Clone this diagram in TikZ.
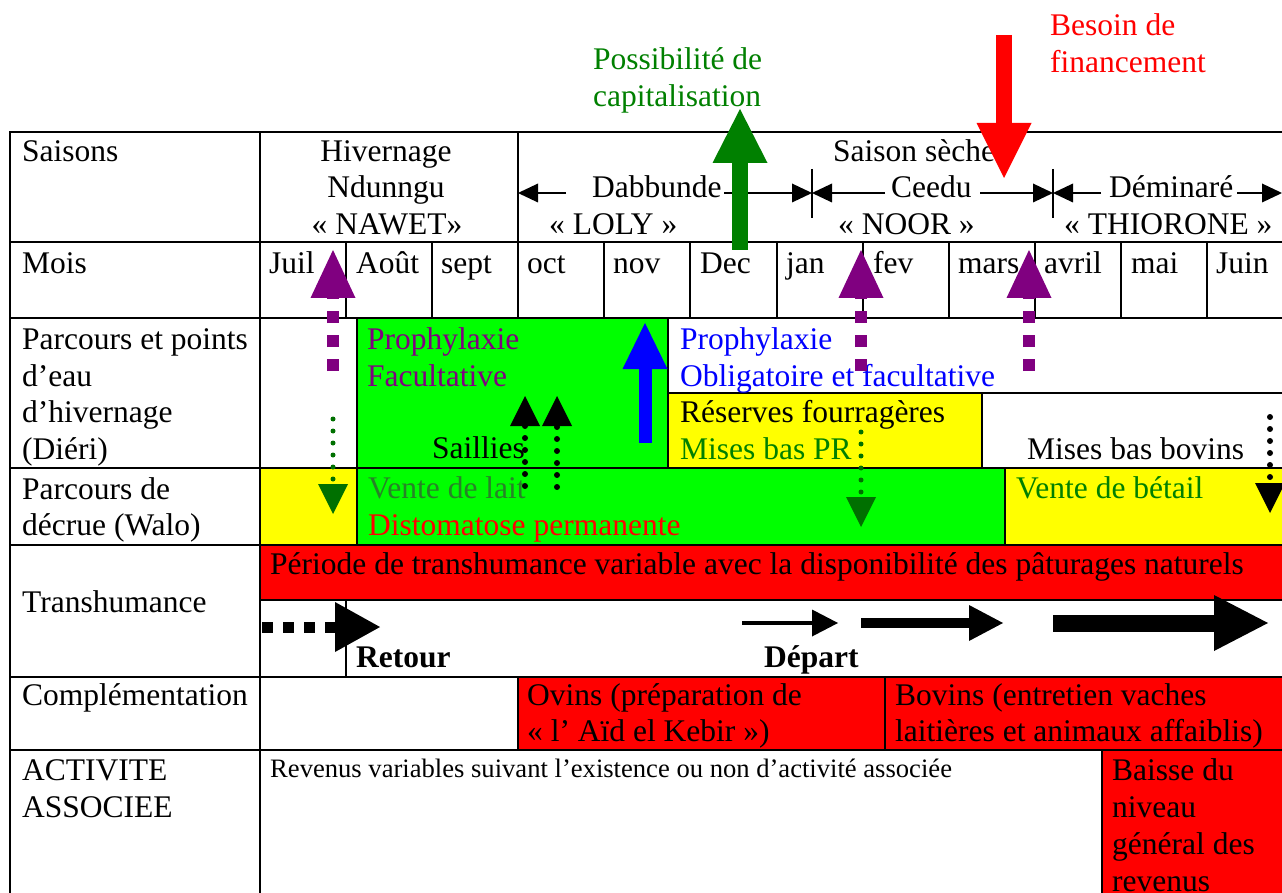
\documentclass[tikz,border=0pt]{standalone}
\usepackage{fontspec}
\setmainfont{Liberation Serif}
\usetikzlibrary{arrows.meta}
\definecolor{vif}{RGB}{0,255,0}
\definecolor{jaune}{RGB}{255,255,0}
\definecolor{rouge}{RGB}{255,0,0}
\definecolor{pourpre}{RGB}{128,0,128}
\definecolor{vertf}{RGB}{0,128,0}
\definecolor{vertsombre}{RGB}{0,112,0}
\definecolor{vertlait}{RGB}{40,130,40}
\definecolor{bleu}{RGB}{0,0,255}
\begin{document}
\begin{tikzpicture}[x=1pt,y=-1pt,
  every node/.style={inner sep=0pt, font=\fontsize{31.5}{37}\selectfont},
  lbl/.style={anchor=base west},
  ctr/.style={anchor=base},
  small/.style={font=\fontsize{26.6}{31}\selectfont},
  grid/.style={line width=2.6pt},
  arr/.style n args={3}{line width=#1,-{Triangle[width=#2,length=#3,line width=0pt]}},
  dotline/.style={line cap=round, dash pattern=on 0pt off 12pt},
  sqline/.style={line cap=butt, dash pattern=on 12pt off 12pt},
  tick/.style={line width=1.3pt},
  season/.style={line width=1.3pt,-{Triangle[width=19pt,length=20pt,line width=0pt]}}]
\useasboundingbox (0,0) rectangle (1282,893);
\clip (0,0) rectangle (1282,893);

% coloured cells
\fill[white] (0,0) rectangle (1282,893);
\fill[vif] (357,318) rectangle (668,468);
\fill[jaune] (668,393) rectangle (982,468);
\fill[jaune] (260,468) rectangle (357,545);
\fill[vif] (357,468) rectangle (1005,545);
\fill[jaune] (1005,468) rectangle (1300,545);
\fill[rouge] (260,545) rectangle (1300,600);
\fill[rouge] (518,677) rectangle (1300,750);
\fill[rouge] (1102,750) rectangle (1300,900);

% table rules
\draw[grid] (10,900) -- (10,132) -- (1300,132);
\foreach \y in {242,318,468,545,677,750} \draw[grid] (10,\y) -- (1300,\y);
\draw[grid] (260,600) -- (1300,600);
\draw[grid] (260,132) -- (260,900);
\draw[grid] (518,132) -- (518,242);
\foreach \x in {346,432,518,604,690,777,863,949,1035,1121,1207} \draw[grid] (\x,242) -- (\x,318);
\draw[grid] (357,318) -- (357,545);
\draw[grid] (668,318) -- (668,468);
\draw[grid] (668,393) -- (1300,393);
\draw[grid] (982,393) -- (982,468);
\draw[grid] (1005,468) -- (1005,545);
\draw[grid] (346,600) -- (346,677);
\draw[grid] (518,677) -- (518,750);
\draw[grid] (885,677) -- (885,750);
\draw[grid] (1102,750) -- (1102,900);

% row headings
\node[lbl] (saisons) at (22,162) {Saisons};
\node[lbl] (mois) at (22,273) {Mois};
\node[lbl] (parc1) at (22,349) {Parcours et points};
\node[lbl] (parc2) at (22,386) {d’eau};
\node[lbl] (parc3) at (22,422) {d’hivernage};
\node[lbl] (parc4) at (22,459) {(Diéri)};
\node[lbl] (decr1) at (22,499) {Parcours de};
\node[lbl] (decr2) at (22,535) {décrue (Walo)};
\node[lbl] (transh) at (22,612) {Transhumance};
\node[lbl] (compl) at (22,705) {Complémentation};
\node[lbl] (activ1) at (22,780) {ACTIVITE};
\node[lbl] (activ2) at (22,817) {ASSOCIEE};

% seasons
\node[ctr] (hiv1) at (386,162) {Hivernage};
\node[ctr] (hiv2) at (386,198) {Ndunngu};
\node[ctr] (hiv3) at (387,235) {« NAWET»};
\node[lbl] (seche) at (833,162) {Saison sèche};
\node[lbl] (dabb) at (592,198) {Dabbunde};
\node[lbl] (ceedu) at (891,198) {Ceedu};
\node[lbl] (demin) at (1109,198) {Déminaré};
\node[lbl] (loly) at (549,235) {« LOLY »};
\node[lbl] (noor) at (838,235) {« NOOR »};
\node[lbl] (thio) at (1064,235) {« THIORONE »};

\coordinate (t1a) at (812,169); \coordinate (t1b) at (812,218);
\coordinate (t2a) at (1053,169); \coordinate (t2b) at (1053,218);
\draw[tick] (t1a) -- (t1b);
\draw[tick] (t2a) -- (t2b);
\coordinate (s1) at (566,193); \coordinate (s1e) at (518,193);
\coordinate (s2) at (724,193); \coordinate (s2e) at (812,193);
\coordinate (s3) at (885,193);
\coordinate (s4) at (980,193); \coordinate (s4e) at (1053,193);
\coordinate (s5) at (1101,193);
\coordinate (s6) at (1237,193); \coordinate (s6e) at (1282,193);
\draw[season] (s1) -- (s1e);
\draw[season] (s2) -- (s2e);
\draw[season] (s3) -- (s2e);
\draw[season] (s4) -- (s4e);
\draw[season] (s5) -- (s4e);
\draw[season] (s6) -- (s6e);

% months
\node[lbl] (m1) at (269,273) {Juil};
\node[lbl] (m2) at (356,273) {Août};
\node[lbl] (m3) at (441,273) {sept};
\node[lbl] (m4) at (527,273) {oct};
\node[lbl] (m5) at (613,273) {nov};
\node[lbl] (m6) at (700,273) {Dec};
\node[lbl] (m7) at (786,273) {jan};
\node[lbl] (m8) at (873,273) {fev};
\node[lbl] (m9) at (958,273) {mars};
\node[lbl] (m10) at (1044,273) {avril};
\node[lbl] (m11) at (1131,273) {mai};
\node[lbl] (m12) at (1216,273) {Juin};

% grazing rows
\node[lbl, text=pourpre] (proF1) at (367,349) {Prophylaxie};
\node[lbl, text=pourpre] (proF2) at (367,386) {Facultative};
\node[lbl, text=bleu] (proO1) at (680,349) {Prophylaxie};
\node[lbl, text=bleu] (proO2) at (680,386) {Obligatoire et facultative};
\node[lbl] (reserves) at (680,422) {Réserves fourragères};
\node[lbl, text=vertf] (misesPR) at (680,459) {Mises bas PR};
\node[lbl] (misesBov) at (1027,459) {Mises bas bovins};
\node[lbl] (saillies) at (432,458) {Saillies};
\node[lbl, text=vertlait] (lait) at (368,498) {Vente de lait};
\node[lbl, text=rouge] (disto) at (368,535) {Distomatose permanente};
\node[lbl, text=vertf] (betail) at (1016,498) {Vente de bétail};

% transhumance
\node[lbl] (periode) at (270,574) {Période de transhumance variable avec la disponibilité des pâturages naturels};
\node[lbl, font=\fontsize{31.5}{37}\selectfont\bfseries] (retour) at (356,667) {Retour};
\node[lbl, font=\fontsize{31.5}{37}\selectfont\bfseries] (depart) at (764,667) {Départ};

% supplementation
\node[lbl] (ovins1) at (527,705) {Ovins (préparation de};
\node[lbl] (ovins2) at (527,741) {« l’ Aïd el Kebir »)};
\node[lbl] (bovins1) at (895,705) {Bovins (entretien vaches};
\node[lbl] (bovins2) at (895,741) {laitières et animaux affaiblis)};

% associated activity
\node[lbl, small] (revenus) at (270,777) {Revenus variables suivant l’existence ou non d’activité associée};
\node[lbl] (baisse1) at (1112,780) {Baisse du};
\node[lbl] (baisse2) at (1112,817) {niveau};
\node[lbl] (baisse3) at (1112,854) {général des};
\node[lbl] (baisse4) at (1112,891) {revenus};

% financial notes
\node[lbl, text=vertf] (poss1) at (593,70) {Possibilité de};
\node[lbl, text=vertf] (poss2) at (593,107) {capitalisation};
\node[lbl, text=rouge] (bes1) at (1050,36) {Besoin de};
\node[lbl, text=rouge] (bes2) at (1050,73) {financement};

% big arrows
\coordinate (capB) at (740,250); \coordinate (capT) at (740,109);
\draw[vertf, arr={16pt}{55pt}{54pt}] (capB) -- (capT);
\coordinate (finT) at (1004,35); \coordinate (finB) at (1004,178);
\draw[rouge, arr={16pt}{55pt}{55pt}] (finT) -- (finB);
\coordinate (bluB) at (645,443); \coordinate (bluT) at (645,323);
\draw[bleu, arr={13pt}{45pt}{46pt}] (bluB) -- (bluT);

% purple markers
\foreach \x/\n in {333/a,861/b,1029/c}{
  \coordinate (pb\n) at (\x,371); \coordinate (pt\n) at (\x,250);
  \draw[pourpre, sqline, arr={12pt}{45pt}{48pt}] (pb\n) -- (pt\n);
}

% dotted arrows
\coordinate (gaT) at (333,419); \coordinate (gaB) at (333,514);
\draw[vertsombre, dotline, arr={5pt}{30pt}{30pt}] (gaT) -- (gaB);
\coordinate (gbT) at (861,432); \coordinate (gbB) at (861,527);
\draw[vertsombre, dotline, arr={5pt}{30pt}{30pt}] (gbT) -- (gbB);
\coordinate (kaB) at (525,486); \coordinate (kaT) at (525,396);
\draw[black, dotline, arr={6pt}{30pt}{30pt}] (kaB) -- (kaT);
\coordinate (kbB) at (557,487); \coordinate (kbT) at (557,396);
\draw[black, dotline, arr={6pt}{30pt}{30pt}] (kbB) -- (kbT);
\coordinate (kcT) at (1270,417); \coordinate (kcB) at (1270,513);
\draw[black, dotline, arr={6pt}{30pt}{30pt}] (kcT) -- (kcB);

% herd movements
\coordinate (rtA) at (262,627); \coordinate (rtB) at (380,627);
\draw[black, line cap=butt, dash pattern=on 11pt off 10pt, arr={11pt}{50pt}{45pt}] (rtA) -- (rtB);
\coordinate (d1A) at (742,623); \coordinate (d1B) at (838,623);
\draw[black, arr={3.5pt}{27pt}{26pt}] (d1A) -- (d1B);
\coordinate (d2A) at (861,623); \coordinate (d2B) at (1003,623);
\draw[black, arr={10pt}{36pt}{34pt}] (d2A) -- (d2B);
\coordinate (d3A) at (1053,623); \coordinate (d3B) at (1268,623);
\draw[black, arr={17pt}{56pt}{54pt}] (d3A) -- (d3B);
\end{tikzpicture}
\end{document}
